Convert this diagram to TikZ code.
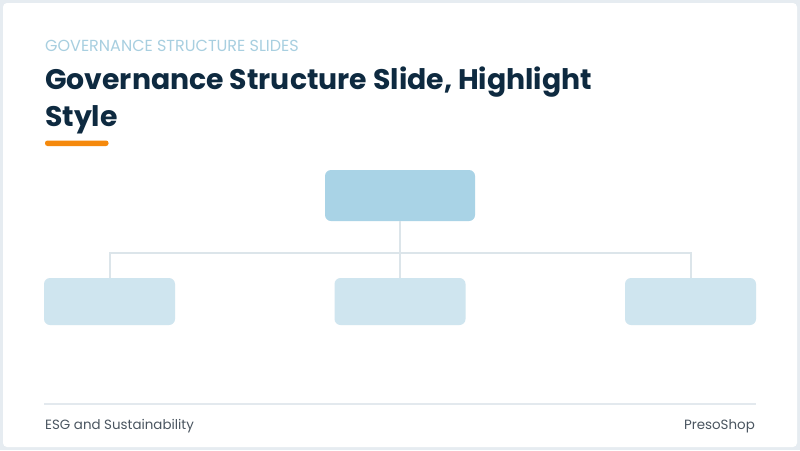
\documentclass[tikz,border=0pt]{standalone}
\usepackage{fontspec}
\setmainfont{Poppins}
\definecolor{frame}{HTML}{E6ECF1}
\definecolor{subt}{HTML}{A8CFE0}
\definecolor{navy}{HTML}{0E2A40}
\definecolor{orng}{HTML}{F5890C}
\definecolor{topbox}{HTML}{A9D3E6}
\definecolor{botbox}{HTML}{CFE5EF}
\definecolor{conn}{HTML}{DCE5EA}
\definecolor{foot}{HTML}{4A5560}
\definecolor{fline}{HTML}{E3E9EE}
\begin{document}
\begin{tikzpicture}[x=1pt,y=-1pt,
  topnode/.style={fill=topbox,rounded corners=6pt,minimum width=150pt,minimum height=51pt,inner sep=0pt,draw=none},
  botnode/.style={fill=botbox,rounded corners=6pt,minimum width=131pt,minimum height=47pt,inner sep=0pt,draw=none},
  connector/.style={draw=conn,line width=2pt},
  ]
\useasboundingbox (0,0) rectangle (800,450);
\fill[frame] (0,0) rectangle (800,450);
\fill[white,rounded corners=4pt] (3,3) rectangle (797,447);
% header
\node[anchor=base west,inner sep=0pt,text=subt,font=\fontsize{16}{18}\selectfont] (sub) at (45,51) {GOVERNANCE STRUCTURE SLIDES};
\node[anchor=base west,inner sep=0pt,text=navy,font=\fontsize{28.3}{37}\bfseries\selectfont] (t1) at (45,89) {Governance Structure Slide, Highlight};
\node[anchor=base west,inner sep=0pt,text=navy,font=\fontsize{28.3}{37}\bfseries\selectfont] (t2) at (45,126) {Style};
\fill[orng,rounded corners=2.5pt] (45,140.5) rectangle (108.5,146);
% org chart
\node[topnode] (top) at (400,195.5) {};
\node[botnode] (b1) at (109.5,301.5) {};
\node[botnode] (b2) at (400,301.5) {};
\node[botnode] (b3) at (690.5,301.5) {};
\coordinate (j) at (400,253);
\draw[connector] (top.south) -- (b2.north);
\draw[connector] (b1.north) |- (j) -| (b3.north);
% footer
\coordinate (fl) at (44,404);
\coordinate (fr) at (756,404);
\draw[draw=fline,line width=2pt] (fl) -- (fr);
\node[anchor=base west,inner sep=0pt,text=foot,font=\fontsize{13.4}{15}\selectfont] (fa) at (45,429) {ESG and Sustainability};
\node[anchor=base east,inner sep=0pt,text=foot,font=\fontsize{13.4}{15}\selectfont] (fb) at (755,429) {PresoShop};
\end{tikzpicture}
\end{document}
